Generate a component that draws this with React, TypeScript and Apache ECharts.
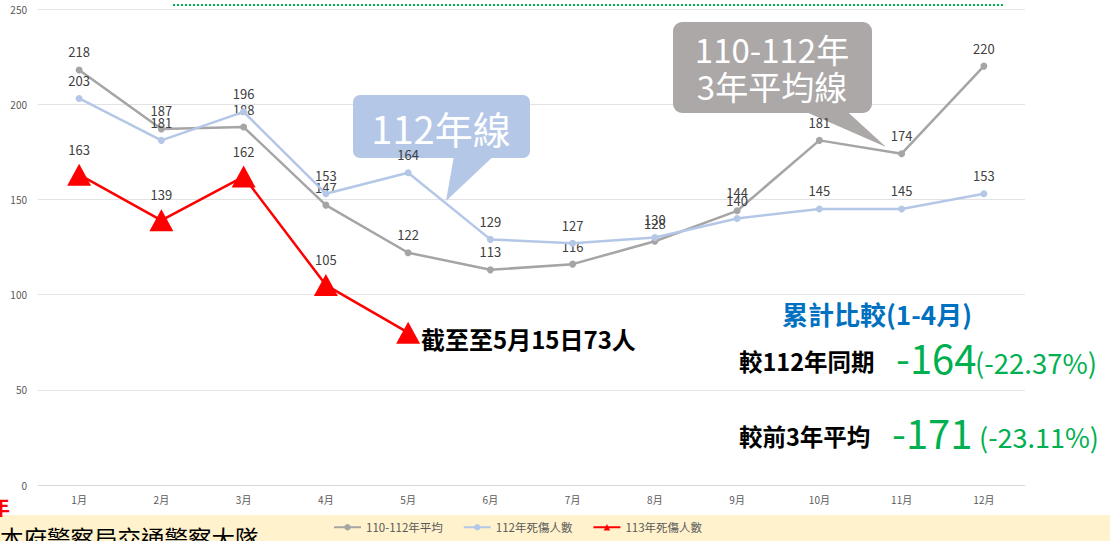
import React, { useEffect, useRef } from "react";
import * as echarts from "echarts";

const months = ["1月", "2月", "3月", "4月", "5月", "6月", "7月", "8月", "9月", "10月", "11月", "12月"];
const avg3yr = [218, 187, 188, 147, 122, 113, 116, 128, 144, 181, 174, 220];
const y112 = [203, 181, 196, 153, 164, 129, 127, 130, 140, 145, 145, 153];
const y113 = [163, 139, 162, 105, 80];
const seriesNames = ["110-112年平均", "112年死傷人數", "113年死傷人數"];

const FONT = "'Noto Sans CJK TC', 'Noto Sans', sans-serif";

export default function App() {
  const ref = useRef<HTMLDivElement>(null);
  useEffect(() => {
    document.body.style.margin = "0";
    const chart = echarts.init(ref.current!, undefined, { renderer: "svg" });
    const lbl = { show: true, position: "top", color: "#404040", fontSize: 13, fontFamily: FONT, distance: 8 };
    chart.setOption({
      animation: false,
      backgroundColor: "#ffffff",
      textStyle: { fontFamily: FONT },
      grid: { left: 38, right: 85, top: 9, bottom: 56, containLabel: false },
      xAxis: {
        type: "category",
        data: months,
        axisLine: { lineStyle: { color: "#d9d9d9" } },
        axisTick: { show: false },
        axisLabel: { color: "#595959", fontSize: 10, margin: 9, fontFamily: FONT },
      },
      yAxis: {
        type: "value",
        min: 0,
        max: 250,
        interval: 50,
        axisLine: { show: false },
        axisTick: { show: false },
        splitLine: { lineStyle: { color: "#e3e3e3", width: 1 } },
        axisLabel: { color: "#595959", fontSize: 10, margin: 11, fontFamily: FONT },
      },
      legend: {
        bottom: 3,
        left: 328,
        itemWidth: 27,
        itemHeight: 8,
        itemGap: 20,
        textStyle: { color: "#595959", fontSize: 11.5, fontFamily: FONT },
        data: seriesNames,
      },
      series: [
        {
          name: seriesNames[0],
          type: "line",
          data: avg3yr,
          symbol: "circle",
          symbolSize: 7,
          lineStyle: { color: "#A5A5A5", width: 2.5 },
          itemStyle: { color: "#A5A5A5" },
          label: lbl,
          z: 2,
        },
        {
          name: seriesNames[1],
          type: "line",
          data: y112,
          symbol: "circle",
          symbolSize: 7,
          lineStyle: { color: "#B4C7E7", width: 2.5 },
          itemStyle: { color: "#B4C7E7" },
          label: lbl,
          z: 3,
        },
        {
          name: seriesNames[2],
          type: "line",
          data: y113,
          symbol: "triangle",
          symbolSize: [24, 22],
          lineStyle: { color: "#FF0000", width: 2.5 },
          itemStyle: { color: "#FF0000" },
          label: {
            ...lbl,
            distance: 8,
            formatter: (p: any) => (p.dataIndex === 4 ? "" : String(p.value)),
          },
          z: 4,
        },
      ],
      graphic: [
        {
          type: "line",
          shape: { x1: 173, y1: 5, x2: 1003, y2: 5 },
          style: { stroke: "#00B050", lineWidth: 2, lineDash: [2, 2] },
        },
        // 112年線 callout
        {
          type: "polygon",
          shape: { points: [[455, 150], [500, 150], [446, 201]] },
          style: { fill: "#B4C7E7" },
          z: 1,
        },
        {
          type: "rect",
          shape: { x: 353, y: 95, width: 177, height: 63, r: 7 },
          style: { fill: "#B4C7E7" },
          z: 1,
        },
        {
          type: "text",
          x: 441,
          y: 127,
          style: {
            text: "112年線",
            fill: "#ffffff",
            fontSize: 38,
            fontFamily: FONT,
            align: "center",
            verticalAlign: "middle",
          },
          z: 1,
        },
        // 110-112 callout
        {
          type: "polygon",
          shape: { points: [[790, 105], [840, 105], [886, 147]] },
          style: { fill: "#ABA8A7" },
          z: 1,
        },
        {
          type: "rect",
          shape: { x: 673, y: 22, width: 199, height: 91, r: 9 },
          style: { fill: "#ABA8A7" },
          z: 1,
        },
        {
          type: "text",
          x: 772,
          y: 67,
          style: {
            text: "110-112年\n3年平均線",
            fill: "#ffffff",
            fontSize: 33,
            lineHeight: 37,
            fontFamily: FONT,
            align: "center",
            verticalAlign: "middle",
          },
          z: 1,
        },
        {
          type: "text",
          x: 421,
          y: 338,
          style: {
            text: "截至至5月15日73人",
            fill: "#000000",
            fontSize: 24,
            fontWeight: "bold",
            fontFamily: FONT,
            verticalAlign: "middle",
          },
          z: 11,
        },
        {
          type: "text",
          x: 877,
          y: 313,
          style: {
            text: "累計比較(1-4月)",
            fill: "#0070C0",
            fontSize: 26,
            fontWeight: "bold",
            fontFamily: FONT,
            align: "center",
            verticalAlign: "middle",
          },
          z: 11,
        },
        {
          type: "text",
          x: 739,
          y: 361,
          style: {
            text: "較112年同期",
            fill: "#000000",
            fontSize: 23.5,
            fontWeight: "bold",
            fontFamily: FONT,
            verticalAlign: "middle",
          },
          z: 11,
        },
        {
          type: "text",
          x: 896,
          y: 357,
          style: {
            text: "-164",
            fill: "#00B050",
            fontSize: 40,
            fontFamily: FONT,
            verticalAlign: "middle",
          },
          z: 11,
        },
        {
          type: "text",
          x: 975,
          y: 362,
          style: {
            text: "(-22.37%)",
            fill: "#00B050",
            fontSize: 27.5,
            fontFamily: FONT,
            verticalAlign: "middle",
          },
          z: 11,
        },
        {
          type: "text",
          x: 739,
          y: 436,
          style: {
            text: "較前3年平均",
            fill: "#000000",
            fontSize: 23.5,
            fontWeight: "bold",
            fontFamily: FONT,
            verticalAlign: "middle",
          },
          z: 11,
        },
        {
          type: "text",
          x: 892,
          y: 432,
          style: {
            text: "-171",
            fill: "#00B050",
            fontSize: 40,
            fontFamily: FONT,
            verticalAlign: "middle",
          },
          z: 11,
        },
        {
          type: "text",
          x: 979,
          y: 436,
          style: {
            text: "(-23.11%)",
            fill: "#00B050",
            fontSize: 27,
            fontFamily: FONT,
            verticalAlign: "middle",
          },
          z: 11,
        },
        // bottom band
        {
          type: "rect",
          shape: { x: 0, y: 515, width: 1110, height: 26 },
          style: { fill: "#FFF2CC" },
          z: -1,
        },
        {
          type: "text",
          x: -10,
          y: 496,
          style: {
            text: "年",
            fill: "#FF0000",
            fontSize: 20,
            fontWeight: "bold",
            fontFamily: FONT,
          },
          z: 11,
        },
        {
          type: "text",
          x: 0,
          y: 526,
          style: {
            text: "本府警察局交通警察大隊",
            fill: "#000000",
            fontSize: 23.5,
            fontFamily: FONT,
          },
          z: 11,
        },
      ],
    });
    return () => chart.dispose();
  }, []);
  return (
    <div
      ref={ref}
      style={{ position: "absolute", left: 0, top: 0, width: 1110, height: 541 }}
    />
  );
}
